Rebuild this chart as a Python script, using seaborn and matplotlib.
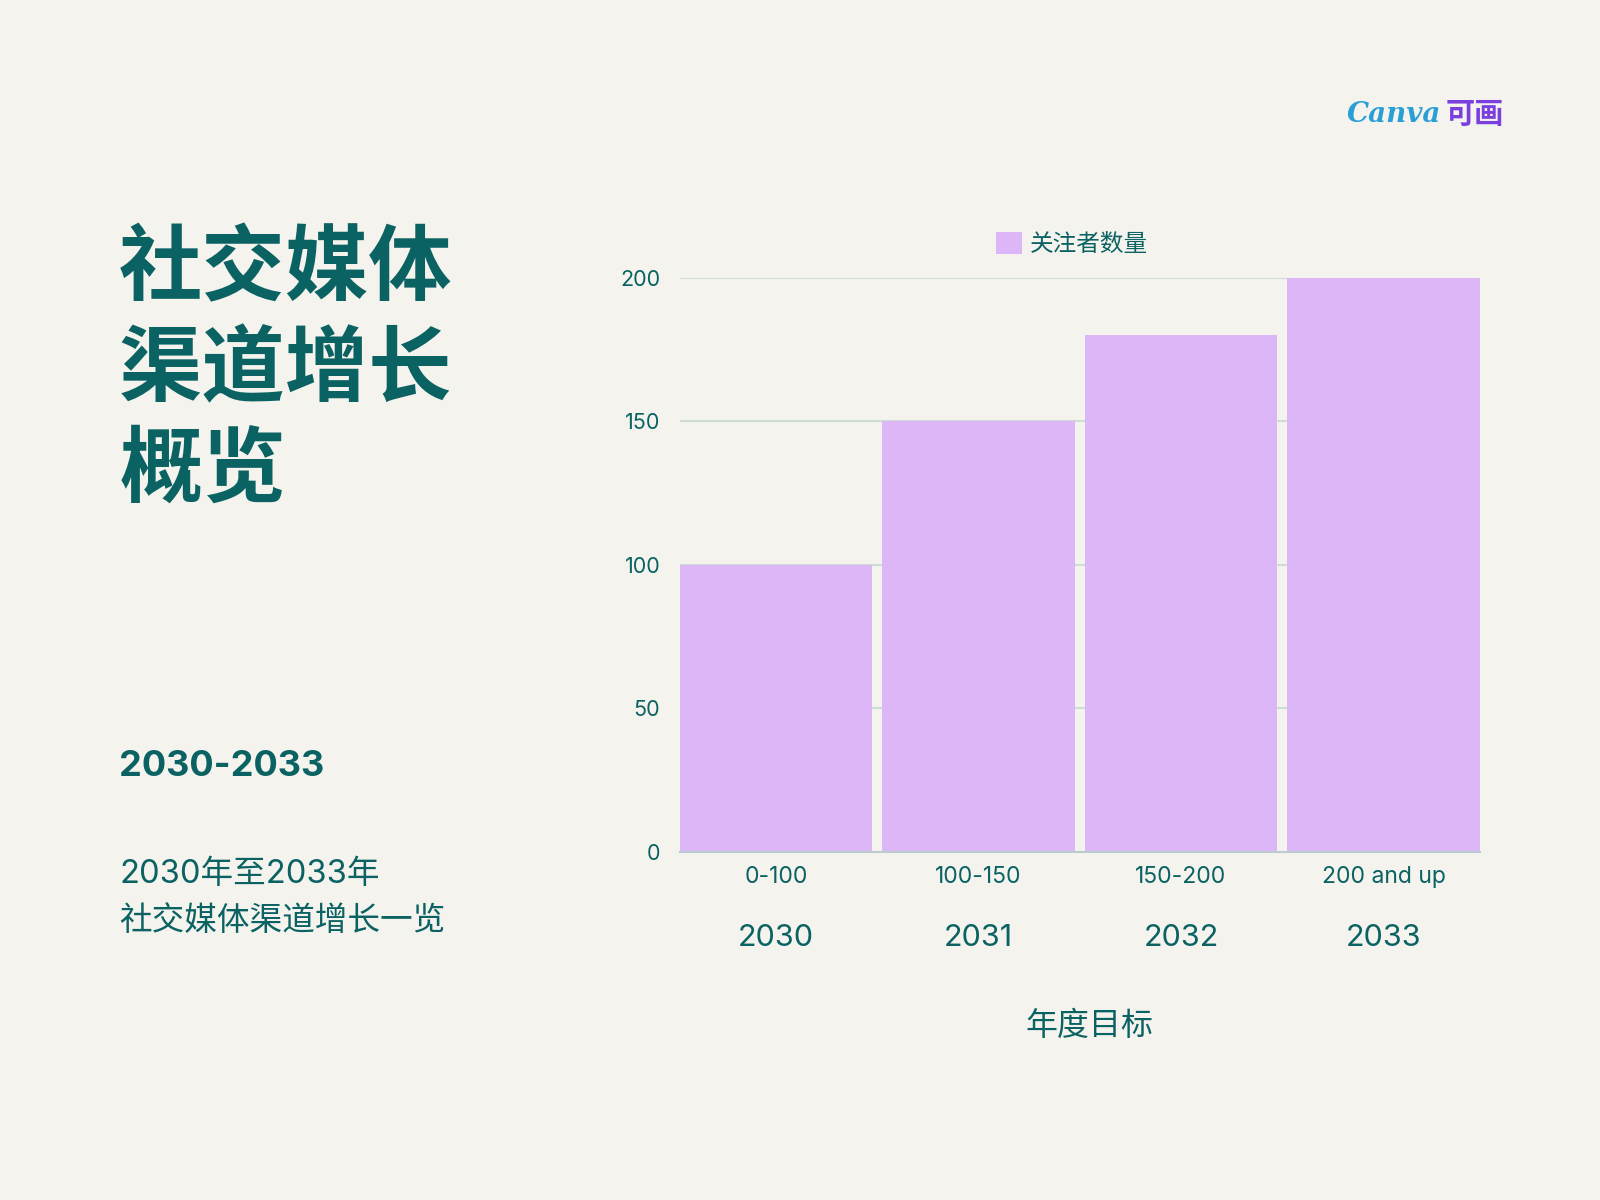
import matplotlib
matplotlib.use("Agg")
import matplotlib.pyplot as plt
import matplotlib.transforms as mtransforms
import pandas as pd
import seaborn as sns

# data
ranges = ["0-100", "100-150", "150-200", "200 and up"]
years = ["2030", "2031", "2032", "2033"]
followers = [100, 150, 180, 200]
yticks = [0, 50, 100, 150, 200]
series_name = "关注者数量"

title_lines = ["社交媒体", "渠道增长", "概览"]
period = "2030-2033"
subtitle_lines = ["2030年至2033年", "社交媒体渠道增长一览"]
xlabel = "年度目标"

bg = "#f4f3ee"
teal = "#0b6262"
bar_color = "#dcb6f6"
grid_color = "#cfdcd6"

sns.set_style("white")
plt.rcParams["font.family"] = ["Inter", "Noto Sans CJK SC", "DejaVu Sans"]
cjk = ["Noto Sans CJK SC", "DejaVu Sans"]

df = pd.DataFrame({"range": ranges, "followers": followers})

fig = plt.figure(figsize=(16, 12), dpi=100, facecolor=bg)
ax = fig.add_axes([0.4248, 0.29, 0.5, 0.4787])
ax.set_facecolor(bg)

w = 0.95
sns.barplot(data=df, x="range", y="followers", color=bar_color, saturation=1,
            width=w, label=series_name, ax=ax, zorder=2, linewidth=0)

ax.set_xlim(-w / 2, len(ranges) - 1 + w / 2)
ax.set_ylim(0, 200)
ax.set_yticks(yticks)
ax.yaxis.grid(True, color=grid_color, linewidth=1.5, zorder=0)
ax.set_axisbelow(True)
for s in ["top", "right", "left"]:
    ax.spines[s].set_visible(False)
ax.spines["bottom"].set_color("#bccbd0")
ax.spines["bottom"].set_linewidth(1.5)
ax.spines["bottom"].set_zorder(3)
ax.tick_params(axis="y", length=0, pad=14, labelsize=15.5, labelcolor=teal)
ax.tick_params(axis="x", length=0, pad=10, labelsize=16.5, labelcolor=teal)
ax.set_xlabel("")
ax.set_ylabel("")

# year labels under the range labels
trans = mtransforms.blended_transform_factory(ax.transData, ax.transAxes)
for i, yr in enumerate(years):
    ax.text(i, -0.149, yr, transform=trans, ha="center", va="center",
            fontsize=22, color=teal)

fig.text(0.6806, 1 - 1026 / 1200, xlabel, ha="center", va="center",
         fontsize=23, color=teal, family=cjk)

leg = ax.legend(loc="center", bbox_to_anchor=(0.67, 0.7967), bbox_transform=fig.transFigure,
                frameon=False, handlelength=1.1, handleheight=1.1,
                handletextpad=0.3, borderpad=0, prop={"family": cjk, "size": 17})
for t in leg.get_texts():
    t.set_color(teal)

# left side text
for k, line in enumerate(title_lines):
    fig.text(0.0745, 1 - (270 + 100.5 * k) / 1200, line, ha="left", va="center",
             fontsize=60, fontweight="heavy", color=teal, family=cjk)

fig.text(0.0745, 1 - 766 / 1200, period, ha="left", va="center",
         fontsize=26, fontweight="bold", color=teal)
fig.text(0.0745, 1 - 875 / 1200, subtitle_lines[0], ha="left", va="center",
         fontsize=23.5, color=teal)
fig.text(0.0745, 1 - 921 / 1200, subtitle_lines[1], ha="left", va="center",
         fontsize=23.5, color=teal, family=cjk)

# brand mark
fig.text(1441 / 1600, 1 - 114 / 1200, "Canva", ha="right", va="center",
         fontsize=20, style="italic", fontweight="bold", family="DejaVu Serif",
         color="#2a9fd6")
fig.text(1446 / 1600, 1 - 114 / 1200, "可画", ha="left", va="center",
         fontsize=21, fontweight="bold", color="#7b3fe0", family=cjk)

fig.savefig("out.png", dpi=100, facecolor=bg)
